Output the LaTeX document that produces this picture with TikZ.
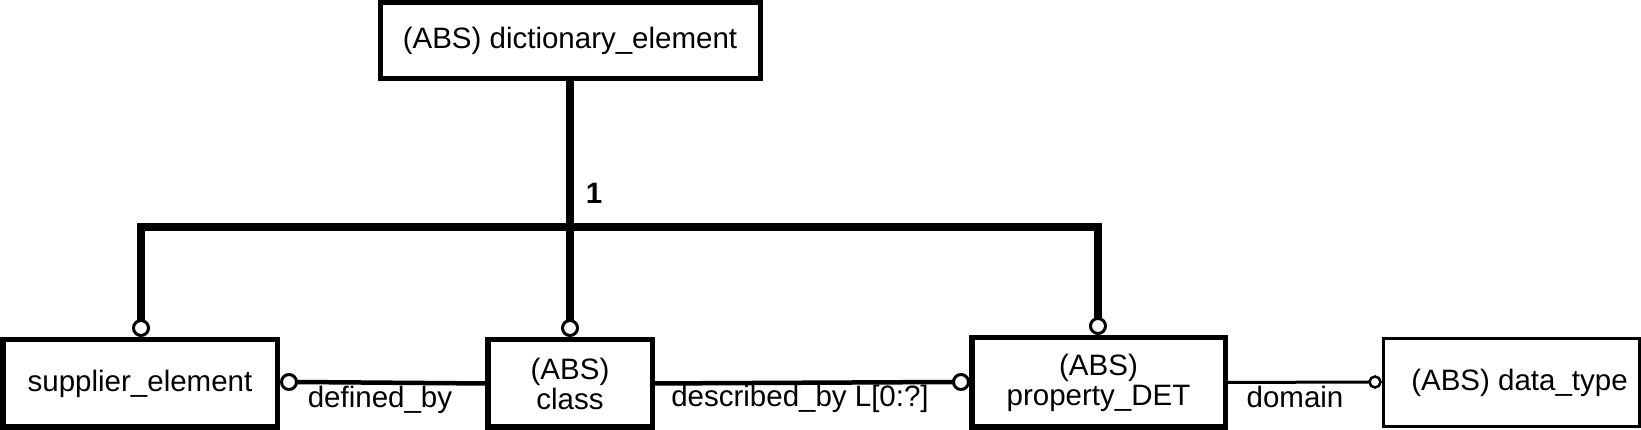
\documentclass[tikz,border=0pt]{standalone}
\usepackage{fontspec}
\setmainfont{Liberation Sans}
\begin{document}
\begin{tikzpicture}[x=1pt,y=1pt,
  every node/.style={font=\fontsize{29.5}{30}\selectfont, inner sep=0pt, outer sep=0pt},
  entbox/.style={draw, line width=5.5pt, align=center},
  thinbox/.style={draw, line width=3pt, align=center},
  ring/.style={draw, circle, line width=3pt, minimum size=15pt, fill=white},
  smallring/.style={draw, circle, line width=2.5pt, minimum size=11pt, fill=white},
  tree/.style={line width=7.5pt, line join=miter},
  rel/.style={line width=4.5pt},
  thinrel/.style={line width=3pt},
  lbl/.style={anchor=base}
]
\useasboundingbox (0,0) rectangle (1641,430);

% entities
\node[entbox, line width=5pt, minimum width=380pt, minimum height=76pt] (top) at (570,389.5) {(ABS) dictionary\_element};
\node[entbox, minimum width=274.5pt, minimum height=87.5pt] (sup) at (140,46.5) {supplier\_element};
\node[entbox, minimum width=164.5pt, minimum height=87.5pt] (cls) at (570,46.5) {(ABS)\\class};
\node[entbox, minimum width=253.5pt, minimum height=89.5pt] (prop) at (1098.5,47.5) {(ABS)\\property\_DET};
\node[thinbox, minimum width=256pt, minimum height=88pt] (dt) at (1511.5,47.5) {\hspace*{16pt}(ABS) data\_type};

% rings
\node[ring] (cS) at (141,102) {};
\node[ring] (cC) at (570,102) {};
\node[ring] (cP) at (1098,104) {};
\node[ring] (cSr) at (289,48) {};
\node[ring] (cPl) at (961,48) {};
\node[smallring] (cD) at (1375,48) {};

% supertype tree
\coordinate (J) at (570,203);
\draw[tree] (top.south) -- (cC.north);
\draw[tree] (cS.north) -- (cS.north |- J) -- (cP.north |- J) -- (cP.north);
\node[font=\fontsize{29.5}{30}\selectfont\bfseries] (one) at (594,237) {1};

% relationships
\draw[rel] (cSr.east) -- (cls.west);
\draw[rel] (cls.east) -- (cPl.west);
\draw[thinrel] (prop.east) -- (cD.west);

\node[lbl] (l1) at (380,22) {defined\_by};
\node[lbl] (l2) at (800,23) {described\_by L[0:?]};
\node[lbl] (l3) at (1295,22) {domain};
\end{tikzpicture}
\end{document}
